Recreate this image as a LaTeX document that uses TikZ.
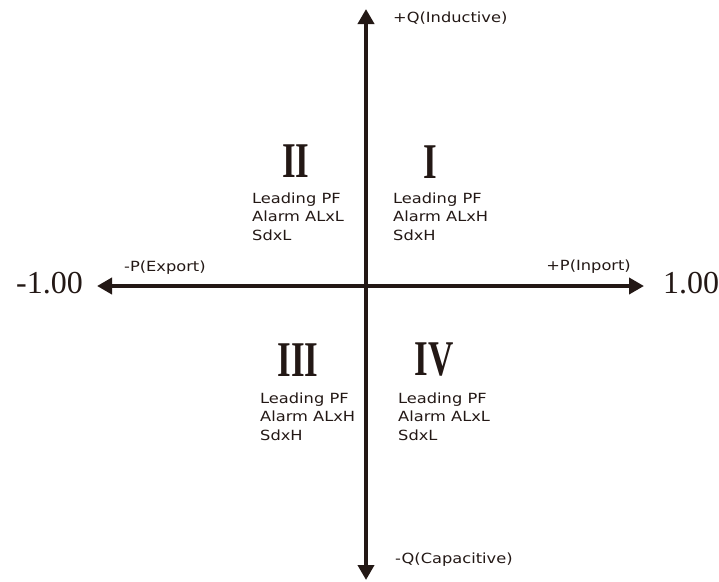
\documentclass[tikz,border=0pt]{standalone}
\usepackage{fontspec}
\setmainfont{Liberation Serif}
\setsansfont[FakeStretch=1.16]{DejaVu Sans}
\usetikzlibrary{arrows.meta}
\definecolor{ink}{HTML}{231815}
\begin{document}
\begin{tikzpicture}[x=1pt,y=-1pt,
  axis/.style={draw=ink,line width=4pt,-{Triangle[length=15pt,width=16pt]}},
  roman/.style={text=ink,font=\bfseries\fontsize{50}{50}\selectfont,xscale=0.7,inner sep=0},
  block/.style={text=ink,font=\sffamily\fontsize{14}{18.5}\selectfont,align=left,anchor=north west,inner sep=0},
  lab/.style={text=ink,font=\sffamily\fontsize{14}{16}\selectfont,inner sep=0},
  num/.style={text=ink,font=\fontsize{32}{32}\selectfont,inner sep=0}]
\useasboundingbox (0,0) rectangle (719,581);
\coordinate (top) at (366,9);
\coordinate (bot) at (366,580);
\coordinate (lft) at (97,286);
\coordinate (rgt) at (644,286);
\coordinate (ctr) at (366,286);
\draw[axis] (ctr) -- (top);
\draw[axis] (ctr) -- (bot);
\draw[axis] (ctr) -- (lft);
\draw[axis] (ctr) -- (rgt);
\node[roman] (nI) at (430,162) {I};
\node[roman] (nII) at (296,161) {II};
\node[roman] (nIII) at (298,360) {III};
\node[roman] (nIV) at (434,360) {IV};
\node[block] (bII) at (252,192.5) {Leading PF\\Alarm ALxL\\SdxL};
\node[block] (bI) at (393,192.5) {Leading PF\\Alarm ALxH\\SdxH};
\node[block] (bIII) at (260,392.5) {Leading PF\\Alarm ALxH\\SdxH};
\node[block] (bIV) at (398,392.5) {Leading PF\\Alarm ALxL\\SdxL};
\node[lab,anchor=west] (qp) at (393,18) {+Q(Inductive)};
\node[lab,anchor=west] (qn) at (395,560) {-Q(Capacitive)};
\node[lab,anchor=west] (pn) at (124,268) {-P(Export)};
\node[lab,anchor=east] (pp) at (631,267) {+P(Inport)};
\node[num,anchor=east] (m1) at (83,283.5) {-1.00};
\node[num,anchor=west] (p1) at (663,283.5) {1.00};
\end{tikzpicture}
\end{document}
